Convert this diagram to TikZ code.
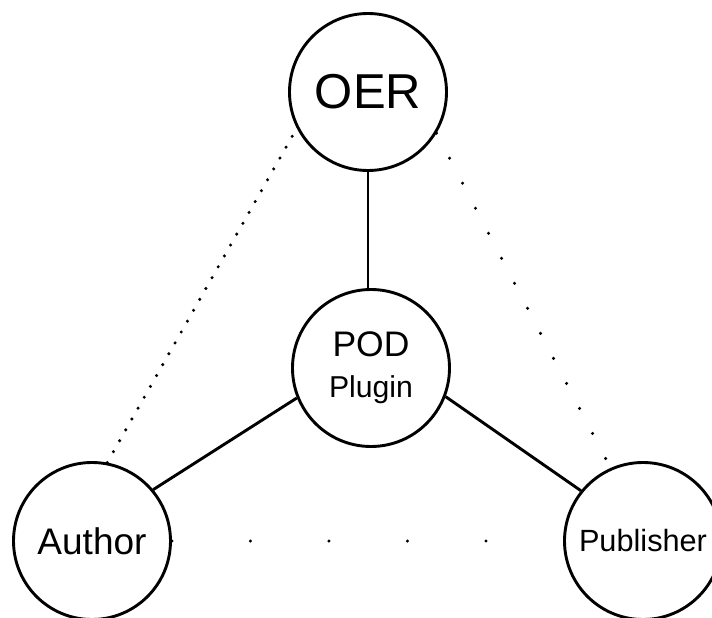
\documentclass[tikz,border=0pt]{standalone}
\usepackage{fontspec}
\setmainfont{Liberation Sans}
\begin{document}
\begin{tikzpicture}[x=1pt,y=-1pt,
  ring/.style={circle,draw,line width=2.9pt,minimum size=157pt,inner sep=0pt},
  link/.style={line width=2.9pt},
  dotline/.style={line width=3.4pt,line cap=round,dash pattern=on 0pt off #1}]
  \useasboundingbox (0,0) rectangle (712,618);

  % the four circles
  \node[ring] (oer) at (368,92) {\fontsize{49}{49}\selectfont OER};
  \node[ring,align=center,font=\fontsize{30.2}{41}\selectfont] (pod) at (371,368)
    {{\fontsize{35.5}{41}\selectfont POD}\\Plugin};
  \node[ring] (author) at (92,541) {\fontsize{37}{37}\selectfont Author};
  \node[ring] (publisher) at (643,541) {\fontsize{30.7}{31}\selectfont Publisher};

  % solid links through the plugin
  \draw[link] (oer.south) -- (oer.south |- pod.north);
  \draw[link] (pod.202) -- (author.40);
  \draw[link] (pod.-21) -- (publisher.141);

  % dotted outer triangle
  \draw[dotline=12.5pt] (author.79) -- (oer.207);
  \draw[dotline=28.2pt] (oer.-31) -- (publisher.114);
  \draw[dotline=78.5pt] (author.east) -- (publisher.west);
\end{tikzpicture}
\end{document}
